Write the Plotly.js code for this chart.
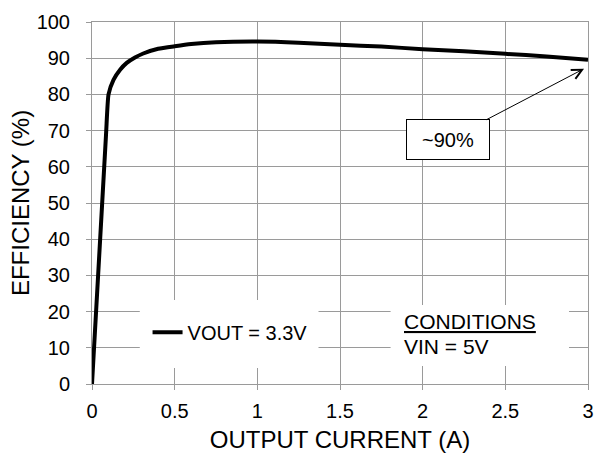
<!DOCTYPE html>
<html>
<head>
<meta charset="utf-8">
<script src="https://cdn.plot.ly/plotly-3.0.1.min.js"></script>
<style>html,body{margin:0;padding:0;background:#fff;}#chart{width:595px;height:453px;}</style>
</head>
<body>
<div id="chart"></div>
<script>
// Output current (A)
const currentA = [0, 0.085, 0.1, 0.13, 0.17, 0.21, 0.26, 0.31, 0.4, 0.5, 0.6, 0.75, 1.0, 1.25, 1.5, 1.75, 2.0, 2.25, 2.5, 2.75, 3.0];
// Efficiency (%) for VOUT = 3.3V
const efficiencyPct = [0, 69, 80, 84, 86.8, 88.7, 90.2, 91.3, 92.6, 93.3, 93.9, 94.4, 94.6, 94.3, 93.7, 93.2, 92.5, 91.9, 91.2, 90.5, 89.6];
const seriesName = "VOUT = 3.3V";
const xTickVals = [0, 0.5, 1, 1.5, 2, 2.5, 3];
const xTickText = ["0", "0.5", "1", "1.5", "2", "2.5", "3"];
const yTickVals = [0, 10, 20, 30, 40, 50, 60, 70, 80, 90, 100];
const calloutText = "~90%";
const conditionsTitle = "CONDITIONS";
const conditionsText = "VIN = 5V";

const FONT = "Liberation Sans, Arial, Helvetica, sans-serif";
const GRID = "#9a9a9a";

const trace = {
  x: currentA, y: efficiencyPct, type: "scatter", mode: "lines", name: seriesName,
  line: {color: "#000", width: 4, shape: "spline", smoothing: 0.5}
};

const layout = {
  width: 595, height: 453,
  margin: {l: 92, r: 7, t: 22, b: 69},
  paper_bgcolor: "#fff", plot_bgcolor: "#fff",
  font: {family: FONT, color: "#000", size: 20},
  showlegend: true,
  legend: {x: 0.112, y: 0.143, xanchor: "left", yanchor: "middle", bgcolor: "rgba(0,0,0,0)",
           font: {size: 20, family: FONT, color: "#000"}, itemwidth: 30},
  xaxis: {
    range: [0, 3], tickvals: xTickVals, ticktext: xTickText,
    showgrid: true, gridcolor: GRID, gridwidth: 1, zeroline: false,
    showline: true, linecolor: GRID, linewidth: 1, mirror: true,
    ticks: "outside", ticklen: 5, tickcolor: GRID, ticklabelstandoff: 4,
    ticklabeloverflow: "allow",
    tickfont: {size: 20, family: FONT},
    title: {text: "OUTPUT CURRENT (A)", font: {size: 24, family: FONT}, standoff: 14},
    automargin: false, fixedrange: true
  },
  yaxis: {
    range: [0, 100], tickvals: yTickVals,
    showgrid: true, gridcolor: GRID, gridwidth: 1, zeroline: false,
    showline: true, linecolor: GRID, linewidth: 1, mirror: true,
    ticks: "outside", ticklen: 5, tickcolor: GRID, ticklabelstandoff: 12,
    tickfont: {size: 20, family: FONT},
    title: {text: "EFFICIENCY (%)", font: {size: 24, family: FONT}, standoff: 0},
    automargin: false, fixedrange: true
  },
  shapes: [
    {type: "rect", layer: "between", xref: "x", yref: "y", x0: 0.289, x1: 1.37, y0: 4.4, y1: 23.2,
     fillcolor: "#fff", line: {width: 0}},
    {type: "rect", layer: "between", xref: "x", yref: "y", x0: 1.806, x1: 2.885, y0: 5.0, y1: 21.8,
     fillcolor: "#fff", line: {width: 0}}
  ],
  annotations: [
    {xref: "x", yref: "y", x: 2.976, y: 87.1, axref: "x", ayref: "y", ax: 2.155, ay: 67.5,
     text: calloutText, showarrow: true, arrowhead: 5, arrowsize: 2, arrowwidth: 1, arrowcolor: "#000",
     bgcolor: "#fff", bordercolor: "#000", borderwidth: 1, borderpad: 1, width: 80, height: 37,
     font: {size: 20, family: FONT, color: "#000"}},
    {xref: "x", yref: "y", x: 1.875, y: 13.6, xanchor: "left", yanchor: "bottom", showarrow: false,
     text: "<u>" + conditionsTitle + "</u>", font: {size: 21, family: FONT, color: "#000"}},
    {xref: "x", yref: "y", x: 1.875, y: 6.6, xanchor: "left", yanchor: "bottom", showarrow: false,
     text: conditionsText, font: {size: 21, family: FONT, color: "#000"}}
  ]
};

Plotly.newPlot("chart", [trace], layout, {displayModeBar: false, staticPlot: true});
</script>
</body>
</html>
